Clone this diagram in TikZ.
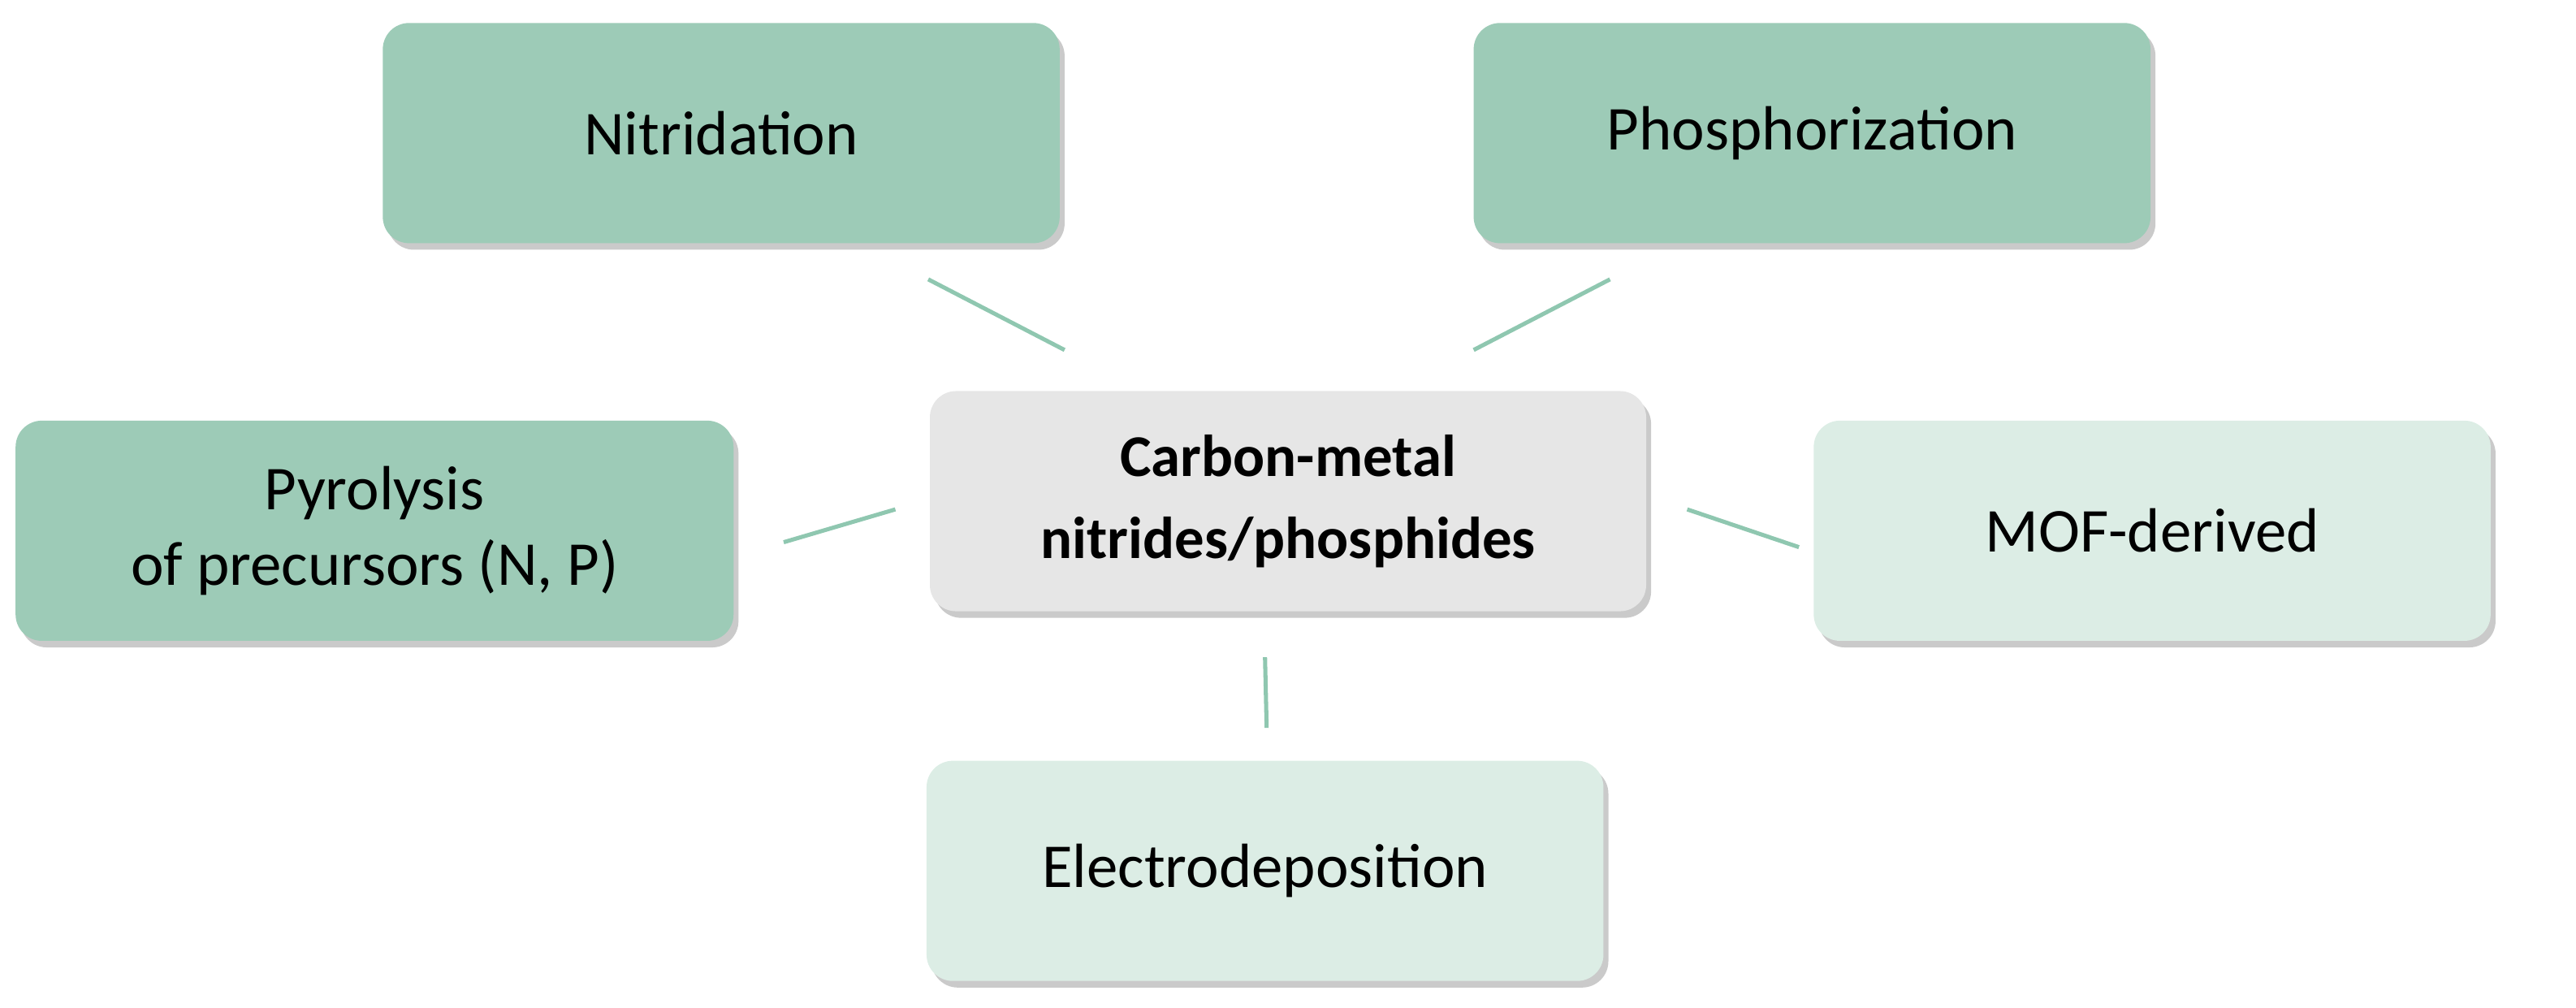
\documentclass[tikz,border=0pt]{standalone}
\usepackage{fontspec}
\setmainfont{Carlito}
\usetikzlibrary{shadows}
\definecolor{dk}{HTML}{9DCBB7}
\definecolor{lt}{HTML}{DCEDE5}
\definecolor{gr}{HTML}{E6E6E6}
\definecolor{ln}{HTML}{8FC7B0}
\begin{document}
\begin{tikzpicture}[x=1bp,y=-1bp,
  box/.style={rounded corners=16bp,minimum width=412bp,minimum height=134bp,inner sep=0pt,align=center,
    font=\fontsize{38bp}{46bp}\selectfont,
    drop shadow={shadow xshift=3bp,shadow yshift=-4bp,opacity=0.35,fill=black!60}},
  conn/.style={draw=ln,line width=2.5bp}]
\useasboundingbox (0,0) rectangle (1568,613);
\node[box,fill=dk] (nit) at (439,81) {Nitridation};
\node[box,fill=dk] (pho) at (1103,81) {Phosphorization};
\node[box,fill=dk,minimum width=437bp] (pyr) at (228,323) {Pyrolysis\\of precursors (N, P)};
\node[box,fill=gr,minimum width=436bp,font=\bfseries\fontsize{36bp}{50bp}\selectfont] (cen) at (784,305) {Carbon-metal\\nitrides/phosphides};
\node[box,fill=lt] (mof) at (1310,323) {MOF-derived};
\node[box,fill=lt] (ele) at (770,530) {Electrodeposition};
\coordinate (a1) at (565,170); \coordinate (a2) at (648,213);
\coordinate (b1) at (980,170); \coordinate (b2) at (897,213);
\coordinate (c1) at (477,330); \coordinate (c2) at (545,310);
\coordinate (d1) at (1027,310); \coordinate (d2) at (1095,333);
\coordinate (e1) at (770,400); \coordinate (e2) at (771,443);
\draw[conn] (a1)--(a2); \draw[conn] (b1)--(b2); \draw[conn] (c1)--(c2);
\draw[conn] (d1)--(d2); \draw[conn] (e1)--(e2);
\end{tikzpicture}
\end{document}
